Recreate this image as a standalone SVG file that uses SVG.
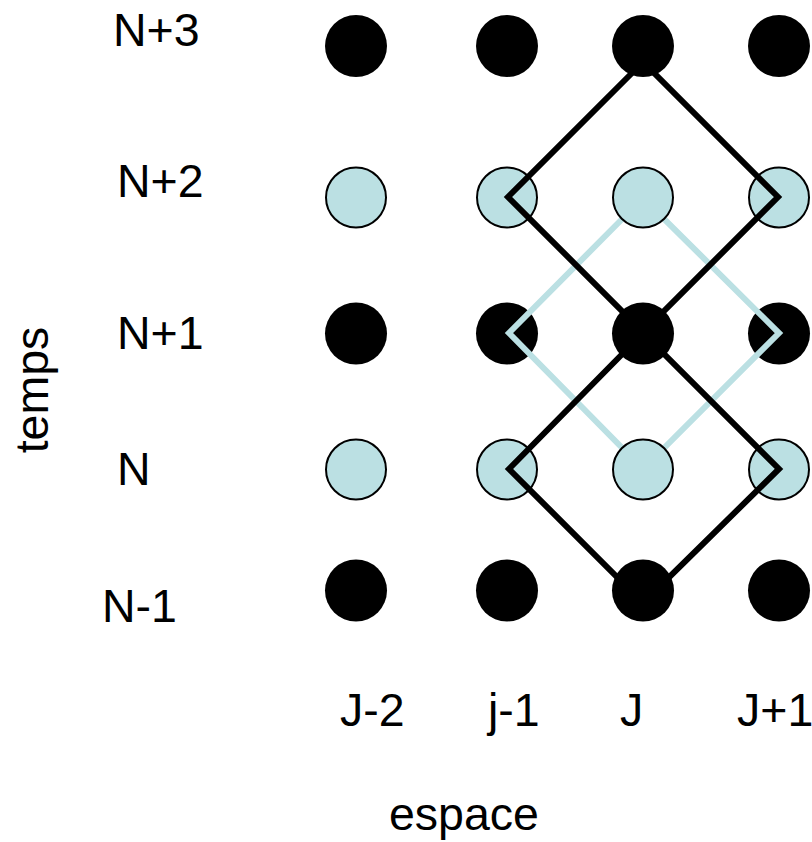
<svg xmlns="http://www.w3.org/2000/svg" width="812" height="842" viewBox="0 0 812 842">
  <style>
    .lbl { font-family: "Liberation Sans", Arial, sans-serif; font-size: 46.5px; fill: #000; }
    .dark { fill: #000; }
    .light { fill: #bbe0e3; stroke: #000; stroke-width: 2; }
    .path-dark { fill: none; stroke: #000; stroke-width: 6; stroke-linejoin: miter; }
    .path-light { fill: none; stroke: #bbe0e3; stroke-width: 6; stroke-linejoin: miter; }
  </style>
  <rect width="812" height="842" fill="#fff"/>

  <!-- time-level labels -->
  <g id="row-labels">
    <text class="lbl" x="113" y="46">N+3</text>
    <text class="lbl" x="117" y="197">N+2</text>
    <text class="lbl" x="117" y="349">N+1</text>
    <text class="lbl" x="117" y="485">N</text>
    <text class="lbl" x="102" y="622">N-1</text>
  </g>
  <text id="axis-time" class="lbl" text-anchor="middle" transform="translate(48,390) rotate(-90)">temps</text>

  <!-- space-index labels -->
  <g id="col-labels">
    <text class="lbl" x="340" y="726">J-2</text>
    <text class="lbl" x="488" y="726">j-1</text>
    <text class="lbl" x="620" y="726">J</text>
    <text class="lbl" x="737" y="726">J+1</text>
  </g>
  <text id="axis-space" class="lbl" x="389" y="830">espace</text>

  <!-- grid points outside the stencil column -->
  <g id="col-j-2">
    <circle class="dark" cx="356" cy="46" r="31"/>
    <circle class="light" cx="356" cy="197.5" r="30"/>
    <circle class="dark" cx="356" cy="333.5" r="31"/>
    <circle class="light" cx="356" cy="469.5" r="30"/>
    <circle class="dark" cx="356" cy="590.5" r="31"/>
  </g>
  <g id="col-j-1">
    <circle class="dark" cx="507" cy="46" r="31"/>
    <circle class="light" cx="507" cy="197.5" r="30"/>
    <circle class="dark" cx="507" cy="333.5" r="31"/>
    <circle class="light" cx="507" cy="469.5" r="30"/>
    <circle class="dark" cx="507" cy="590.5" r="31"/>
  </g>
  <g id="col-j+1">
    <circle class="dark" cx="779" cy="46" r="31"/>
    <circle class="light" cx="779" cy="197.5" r="30"/>
    <circle class="dark" cx="779" cy="333.5" r="31"/>
    <circle class="light" cx="779" cy="469.5" r="30"/>
    <circle class="dark" cx="779" cy="590.5" r="31"/>
  </g>

  <!-- stencil connectors -->
  <g id="connectors">
    <polygon class="path-light" points="643,198 509,333 643,469 779,333"/>
    <polygon class="path-dark" points="643,62 508,197 643,332 778,197"/>
    <polygon class="path-dark" points="643,333 509,469 643,603 779,469"/>
  </g>

  <!-- central column drawn above the connectors -->
  <g id="col-j">
    <circle class="dark" cx="643" cy="46" r="31"/>
    <circle class="light" cx="643" cy="197.5" r="30"/>
    <circle class="dark" cx="643" cy="333.5" r="31"/>
    <circle class="light" cx="643" cy="469.5" r="30"/>
    <circle class="dark" cx="643" cy="590.5" r="31"/>
  </g>
</svg>
